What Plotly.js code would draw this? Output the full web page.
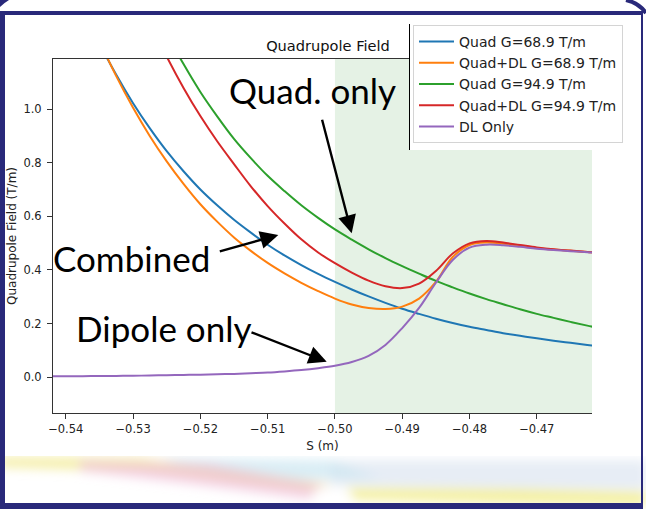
<!DOCTYPE html>
<html>
<head>
<meta charset="utf-8">
<script src="https://cdn.plot.ly/plotly-3.0.1.min.js"></script>
<style>
  html, body { margin: 0; padding: 0; background: #ffffff; }
  #stage { position: relative; width: 646px; height: 509px; overflow: hidden; background: #ffffff; }
  #swoosh, #corners { position: absolute; left: 0; top: 0; }
  #chart { position: absolute; left: 0; top: 0; width: 646px; height: 509px; }
  #frame {
    position: absolute; left: 0; top: 11px; width: 636px; height: 488px;
    border-style: solid; border-color: #29297a; border-width: 4px 2px 6px 5px;
    pointer-events: none;
  }
</style>
</head>
<body>
<div id="stage">
  <svg id="swoosh" width="646" height="509">
    <defs>
      <filter id="soft" x="-20%" y="-100%" width="140%" height="300%">
        <feGaussianBlur stdDeviation="5.5"/>
      </filter>
      <clipPath id="strip"><rect x="0" y="456" width="646" height="53"/></clipPath>
    </defs>
    <g clip-path="url(#strip)">
      <g filter="url(#soft)">
        <polygon points="330,460 646,460 646,490 330,486" fill="#e4ebf4" opacity="0.9"/>
        <polygon points="160,458 330,460 380,478 240,482" fill="#cde7f1" opacity="0.75"/>
        <polygon points="0,457 140,458 330,484 330,494 140,471 0,467" fill="#f2eb98" opacity="0.85"/>
        <polygon points="80,461 210,464 335,487 325,501 190,484 80,471" fill="#efbddb" opacity="0.65"/>
        <polygon points="340,488 520,489 646,492 646,505 520,503 340,499" fill="#f2ed8a" opacity="0.85"/>
        <ellipse cx="332" cy="496" rx="20" ry="10" fill="#ffffff"/>
      </g>
    </g>
  </svg>
  <div id="chart"></div>
  <div id="frame"></div>
  <svg id="corners" width="646" height="509">
    <path d="M0,0 L9,0 Q4,3 0,7 Z" fill="#29297a"/>
    <path d="M626,0 Q639,3 646,13" fill="none" stroke="#29297a" stroke-width="4"/>
  </svg>
</div>
<script>
// Longitudinal position along the beamline (m)
const S = [-0.5425, -0.54, -0.5375, -0.535, -0.5325, -0.53, -0.5275, -0.525, -0.5225, -0.52,
           -0.5175, -0.515, -0.5125, -0.51, -0.5075, -0.505, -0.5025, -0.50, -0.4975, -0.495,
           -0.4925, -0.49, -0.4875, -0.485, -0.4825, -0.48, -0.4775, -0.475, -0.4725, -0.47,
           -0.4675, -0.465, -0.4625, -0.46];

// Quadrupole field profiles (T/m)
const quadG689 = [1.70, 1.529, 1.380, 1.246, 1.128, 1.022, 0.928, 0.843, 0.768, 0.700,
                  0.641, 0.587, 0.539, 0.494, 0.454, 0.418, 0.385, 0.355, 0.327, 0.301,
                  0.277, 0.255, 0.236, 0.218, 0.202, 0.188, 0.176, 0.164, 0.154, 0.145,
                  0.136, 0.128, 0.120, 0.113];
const quadDlG689 = [1.74, 1.56, 1.399, 1.255, 1.123, 1.005, 0.899, 0.805, 0.721, 0.645,
                    0.580, 0.521, 0.471, 0.426, 0.387, 0.352, 0.321, 0.293, 0.271, 0.258,
                    0.254, 0.263, 0.293, 0.355, 0.448, 0.493, 0.502, 0.498, 0.490, 0.482,
                    0.476, 0.471, 0.467, 0.463];
const quadG949 = [2.57, 2.325, 2.099, 1.895, 1.716, 1.554, 1.411, 1.282, 1.168, 1.064,
                  0.973, 0.889, 0.817, 0.751, 0.694, 0.641, 0.594, 0.551, 0.513, 0.477,
                  0.444, 0.414, 0.386, 0.359, 0.335, 0.312, 0.291, 0.272, 0.253, 0.236,
                  0.221, 0.206, 0.192, 0.179];
const quadDlG949 = [2.45, 2.20, 1.99, 1.80, 1.625, 1.469, 1.325, 1.196, 1.079, 0.974,
                    0.880, 0.795, 0.712, 0.638, 0.573, 0.514, 0.465, 0.425, 0.390, 0.360,
                    0.339, 0.332, 0.349, 0.396, 0.461, 0.499, 0.508, 0.502, 0.493, 0.484,
                    0.477, 0.472, 0.467, 0.463];
const dlOnly = [0.003, 0.003, 0.0035, 0.004, 0.0045, 0.005, 0.006, 0.007, 0.008, 0.009,
                0.0105, 0.012, 0.0145, 0.017, 0.021, 0.026, 0.033, 0.042, 0.056, 0.079,
                0.120, 0.183, 0.258, 0.352, 0.437, 0.483, 0.494, 0.492, 0.486, 0.479,
                0.474, 0.470, 0.466, 0.463];

const seriesNames = ['Quad G=68.9 T/m', 'Quad+DL G=68.9 T/m', 'Quad G=94.9 T/m',
                     'Quad+DL G=94.9 T/m', 'DL Only'];
const seriesValues = [quadG689, quadDlG689, quadG949, quadDlG949, dlOnly];
const seriesColors = ['#1f77b4', '#ff7f0e', '#2ca02c', '#d62728', '#9467bd'];

const xTicks = [-0.54, -0.53, -0.52, -0.51, -0.50, -0.49, -0.48, -0.47];
const yTicks = [0.0, 0.2, 0.4, 0.6, 0.8, 1.0];
const xRange = [-0.5419, -0.4618];
const yRange = [-0.134, 1.187];
const regionStart = -0.50;   // start of the shaded quadrupole region

// plot-area box in page pixels
const L = 53, R = 592, T = 59, B = 413;
const px = x => (x - L) / (R - L);
const py = y => (B - y) / (B - T);

const traces = seriesValues.map((vals, i) => ({
  type: 'scatter', mode: 'lines', x: S, y: vals, name: seriesNames[i],
  line: { color: seriesColors[i], width: 2, shape: 'spline', smoothing: 1, simplify: false }
}));

const mpl = 'DejaVu Sans';
const axisCommon = {
  showline: true, linecolor: '#333', linewidth: 1, ticks: 'outside', ticklen: 5,
  tickcolor: '#333', tickwidth: 1, showgrid: false, zeroline: false,
  tickfont: { family: mpl, size: 11.5, color: '#222' }
};

const calloutFont = { family: 'Lato', size: 35, color: '#000' };
function arrow(tail, tip) {
  return { xref: 'paper', yref: 'paper', x: px(tip[0]), y: py(tip[1]),
           ax: tail[0] - tip[0], ay: tail[1] - tip[1], text: '', showarrow: true,
           arrowhead: 2, arrowsize: 1.5, arrowwidth: 2.4, arrowcolor: '#000', standoff: 0 };
}
function callout(text, cx, cy) {
  return { xref: 'paper', yref: 'paper', x: px(cx), y: py(cy), text: text,
           showarrow: false, xanchor: 'center', yanchor: 'middle', font: calloutFont };
}

const layout = {
  width: 646, height: 509,
  margin: { l: L, r: 646 - R, t: T, b: 509 - B, pad: 0 },
  paper_bgcolor: 'rgba(0,0,0,0)', plot_bgcolor: '#ffffff',
  showlegend: true,
  title: { text: 'Quadrupole Field', font: { family: mpl, size: 14.6, color: '#111' },
           xref: 'paper', x: px(328), xanchor: 'center',
           yref: 'container', y: 1 - 46 / 509, yanchor: 'middle' },
  xaxis: Object.assign({}, axisCommon, {
    range: xRange, tickvals: xTicks, tickformat: '.2f', mirror: true,
    title: { text: 'S (m)', font: { family: mpl, size: 12, color: '#222' }, standoff: 6 }
  }),
  yaxis: Object.assign({}, axisCommon, {
    range: yRange, tickvals: yTicks, tickformat: '.1f', ticklabelstandoff: 3,
    title: { text: 'Quadrupole Field (T/m)', font: { family: mpl, size: 12, color: '#222' }, standoff: 4 }
  }),
  legend: {
    x: px(413), y: py(25), xanchor: 'left', yanchor: 'top', itemwidth: 35,
    bgcolor: '#ffffff', bordercolor: '#d4d4d4', borderwidth: 1,
    font: { family: mpl, size: 14, color: '#222' }
  },
  shapes: [
    { type: 'rect', xref: 'x', yref: 'paper', x0: regionStart, x1: xRange[1], y0: 0, y1: 1,
      fillcolor: 'rgba(0,128,0,0.1)', line: { width: 0 }, layer: 'below' },
    { type: 'rect', xref: 'paper', yref: 'paper', x0: px(409), x1: px(646), y0: py(150), y1: py(14),
      fillcolor: '#ffffff', line: { width: 0 }, layer: 'above' },
    { type: 'line', xref: 'paper', yref: 'paper', x0: px(409.5), x1: px(409.5), y0: py(150), y1: py(24),
      line: { color: '#000', width: 1 }, layer: 'above' }
  ],
  annotations: [
    callout('Quad. only', 312.5, 90),
    callout('Combined', 131.7, 258),
    callout('Dipole only', 164, 328),
    arrow([321.7, 118.3], [351.7, 233.3]),
    arrow([218.3, 251.7], [278.3, 235]),
    arrow([250, 331.7], [326.7, 361.7])
  ]
};

Plotly.newPlot('chart', traces, layout, { staticPlot: true, displayModeBar: false });
</script>
</body>
</html>
